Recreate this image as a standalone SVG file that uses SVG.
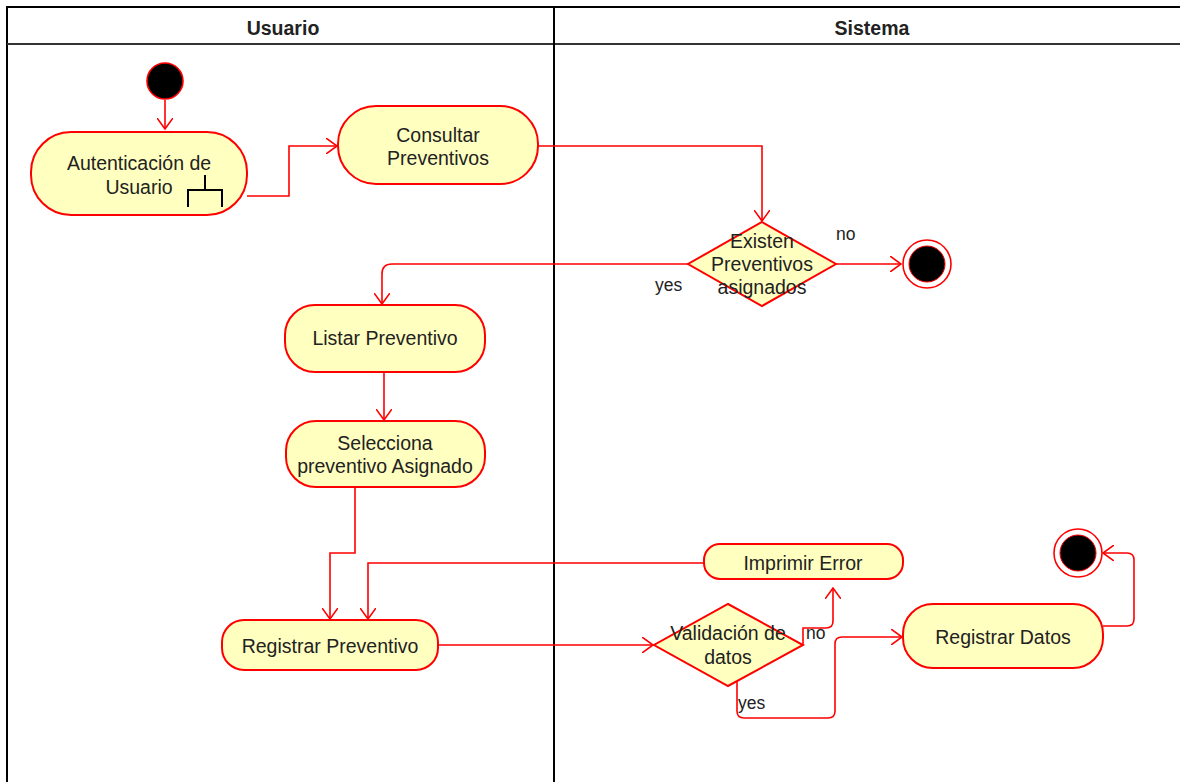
<svg xmlns="http://www.w3.org/2000/svg" width="1180" height="782" viewBox="0 0 1180 782">
<style>
.act{fill:#ffffc0;stroke:#ff0000;stroke-width:2}
.t{font-family:"Liberation Sans",Arial,sans-serif;font-size:19.5px;fill:#222;text-anchor:middle}
.h{font-family:"Liberation Sans",Arial,sans-serif;font-size:19.5px;font-weight:bold;fill:#222;text-anchor:middle}
.lbl{font-family:"Liberation Sans",Arial,sans-serif;font-size:17.5px;fill:#222}
.e{fill:none;stroke:#ff0000;stroke-width:1.6}
.lane{fill:none;stroke:#000;stroke-width:2}
</style>
<defs>
<marker id="arr" markerUnits="userSpaceOnUse" viewBox="0 0 12 16" markerWidth="12" markerHeight="16" refX="11" refY="8" orient="auto">
<path d="M0,0 L11,8 L0,16" fill="none" stroke="#ff0000" stroke-width="1.6"/>
</marker>
</defs>
<rect width="1180" height="782" fill="#fff"/>
<g id="lanes">
<path class="lane" d="M7,790 V7 H1190"/>
<line x1="7" y1="44" x2="1190" y2="44" stroke="#333" stroke-width="2"/>
<line class="lane" x1="554" y1="7" x2="554" y2="790"/>
<text class="h" x="283" y="35">Usuario</text>
<text class="h" x="872" y="35">Sistema</text>
</g>
<g id="connectors">
<path class="e" d="M165,100 V129" marker-end="url(#arr)"/>
<path class="e" d="M247,196 H289 V146 H337" marker-end="url(#arr)"/>
<path class="e" d="M538,146 H762 V221" marker-end="url(#arr)"/>
<path class="e" d="M836,264 H901" marker-end="url(#arr)"/>
<path class="e" d="M688,264 H392 Q382,264 382,274 V304" marker-end="url(#arr)"/>
<path class="e" d="M384,372 V420" marker-end="url(#arr)"/>
<path class="e" d="M355,487 V553 H330 V619" marker-end="url(#arr)"/>
<path class="e" d="M704,563 H368 V619" marker-end="url(#arr)"/>
<path class="e" d="M438,645 H653" marker-end="url(#arr)"/>
<path class="e" d="M803,645 V628 H826 Q833,628 833,621 V588" marker-end="url(#arr)"/>
<path class="e" d="M737,680 V711 Q737,718 744,718 H828 Q835,718 835,711 V644 Q835,637 842,637 H902" marker-end="url(#arr)"/>
<path class="e" d="M1103,626 H1127 Q1134,626 1134,619 V560 Q1134,553 1127,553 H1103" marker-end="url(#arr)"/>
<text class="lbl" x="836" y="240">no</text>
<text class="lbl" x="655" y="291">yes</text>
<text class="lbl" x="806" y="639">no</text>
<text class="lbl" x="738" y="709">yes</text>
</g>
<g id="start">
<circle cx="165" cy="81" r="18" fill="#000" stroke="#ff0000" stroke-width="1.6"/>
</g>
<g id="autenticacion">
<rect class="act" x="31" y="132" width="216" height="83" rx="40"/>
<text class="t" x="139" y="170">Autenticación de</text>
<text class="t" x="139" y="194">Usuario</text>
<path d="M205,175 V190 M188,207 V190 H222 V207" fill="none" stroke="#000" stroke-width="2"/>
</g>
<g id="consultar">
<rect class="act" x="338" y="106" width="200" height="78" rx="38"/>
<text class="t" x="438" y="142">Consultar</text>
<text class="t" x="438" y="165">Preventivos</text>
</g>
<g id="existen">
<polygon class="act" points="762,222 836,264 762,306 688,264"/>
<text class="t" x="762" y="248">Existen</text>
<text class="t" x="762" y="271">Preventivos</text>
<text class="t" x="762" y="294">asignados</text>
</g>
<g id="final1">
<circle cx="927" cy="264" r="24" fill="#fff" stroke="#ff0000" stroke-width="1.6"/>
<circle cx="927" cy="264" r="18" fill="#000" stroke="#ff0000" stroke-width="1"/>
</g>
<g id="listar">
<rect class="act" x="285" y="305" width="200" height="67" rx="30"/>
<text class="t" x="385" y="345">Listar Preventivo</text>
</g>
<g id="selecciona">
<rect class="act" x="286" y="421" width="199" height="66" rx="30"/>
<text class="t" x="385" y="450">Selecciona</text>
<text class="t" x="385" y="473">preventivo Asignado</text>
</g>
<g id="registrarPreventivo">
<rect class="act" x="222" y="620" width="216" height="50" rx="22"/>
<text class="t" x="330" y="653">Registrar Preventivo</text>
</g>
<g id="imprimir">
<rect class="act" x="704" y="544" width="199" height="35" rx="16"/>
<text class="t" x="803" y="570">Imprimir Error</text>
</g>
<g id="validacion">
<polygon class="act" points="728,604 803,645 728,686 654,645"/>
<text class="t" x="728" y="640">Validación de</text>
<text class="t" x="728" y="664">datos</text>
</g>
<g id="registrarDatos">
<rect class="act" x="903" y="604" width="200" height="64" rx="30"/>
<text class="t" x="1003" y="644">Registrar Datos</text>
</g>
<g id="final2">
<circle cx="1078" cy="553" r="24" fill="#fff" stroke="#ff0000" stroke-width="1.6"/>
<circle cx="1078" cy="553" r="18" fill="#000" stroke="#ff0000" stroke-width="1"/>
</g>
</svg>
